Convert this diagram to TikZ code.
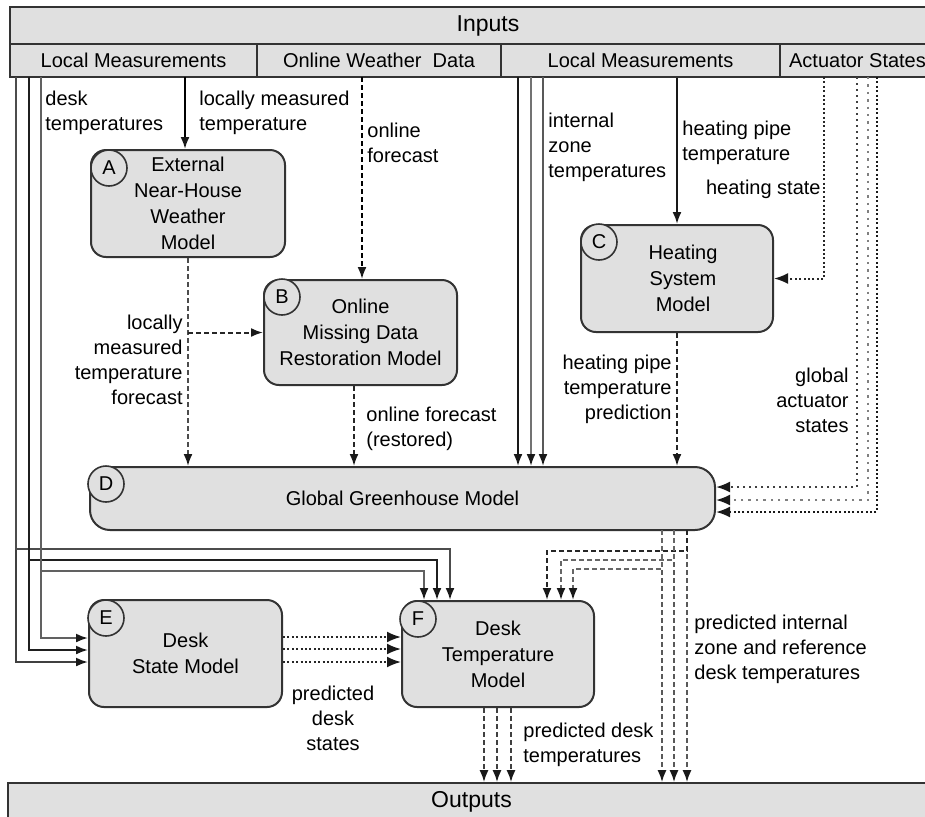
\documentclass[tikz,border=0pt]{standalone}
\usepackage{fontspec}
\setmainfont{Liberation Sans}
\usetikzlibrary{arrows.meta,calc}
\definecolor{boxgray}{HTML}{E0E0E0}
\begin{document}
\begin{tikzpicture}[x=0.5pt,y=-0.5pt,
  font=\fontsize{10}{12.5}\selectfont,
  cell/.style={draw=black!80, line width=0.8pt, fill=boxgray, inner sep=0pt},
  bigcell/.style={cell, font=\fontsize{11.5}{13}\selectfont},
  model/.style={draw=black!80, line width=1pt, fill=boxgray, rounded corners=7.5pt, align=center, inner sep=0pt, font=\fontsize{10}{13}\selectfont},
  tag/.style={draw=black!80, line width=0.8pt, fill=boxgray, circle, minimum size=18pt, inner sep=0pt},
  lbl/.style={inner sep=0pt, align=left},
  sarr/.style={line width=1pt, -{Latex[length=6pt,width=4.5pt,color=black!90]}},
  darr/.style={sarr, dash pattern=on 2.5pt off 1.5pt},
  oarr/.style={sarr, dash pattern=on 1pt off 1.2pt},
  oarrbig/.style={oarr, -{Latex[length=7pt,width=5.5pt,color=black!90]}}
]
\useasboundingbox (0,0) rectangle (925,816);
\clip (0,0) rectangle (925,816);

% header and footer
\node[bigcell, minimum width=478pt, minimum height=18.5pt] (inputs) at (488,25.5) {Inputs};
\node[cell, minimum width=123.5pt, minimum height=16.5pt] (lm1) at (133.5,60.5) {Local Measurements};
\node[cell, minimum width=122pt, minimum height=16.5pt] (owd) at (379,60.5) {Online Weather~ Data};
\node[cell, minimum width=139.5pt, minimum height=16.5pt] (lm2) at (640.5,60.5) {Local Measurements};
\node[cell, minimum width=77.5pt, minimum height=16.5pt] (act) at (857.5,60.5) {Actuator States};
\node[bigcell, minimum width=463.5pt, minimum height=18.5pt] (outputs) at (471.5,801.5) {Outputs};

% models
\node[model, minimum width=97pt, minimum height=53.5pt] (A) at (188,203.5) {External\\Near-House\\Weather\\Model};
\node[model, minimum width=96.5pt, minimum height=52.5pt] (B) at (360.5,332.5) {Online\\Missing Data\\Restoration Model};
\node[model, minimum width=96pt, minimum height=53.5pt] (C) at (677,278.5) {\hspace*{6pt}Heating\\\hspace*{6pt}System\\\hspace*{6pt}Model};
\node[model, minimum width=312.5pt, minimum height=31.5pt, rounded corners=10pt] (D) at (402.5,498.5) {Global Greenhouse Model};
\node[model, minimum width=96.5pt, minimum height=53.5pt] (E) at (185.5,653.5) {Desk\\State Model};
\node[model, minimum width=96pt, minimum height=53pt] (F) at (498,654) {Desk\\Temperature\\Model};

\node[tag] (tA) at ($(A.north west)+(19,19)$) {A};
\node[tag] (tB) at ($(B.north west)+(19,18)$) {B};
\node[tag] (tC) at ($(C.north west)+(19,18)$) {C};
\node[tag] (tD) at ($(D.north west)+(17,18)$) {D};
\node[tag] (tE) at ($(E.north west)+(18,19)$) {E};
\node[tag] (tF) at ($(F.north west)+(17,19)$) {F};

% left bundle: desk temperatures
\coordinate (l1) at (16,77);
\coordinate (l2) at (29,77);
\coordinate (l3) at (41,77);
\coordinate (k1) at (450,549);
\coordinate (k2) at (437,560);
\coordinate (k3) at (424,571);
\draw[sarr, draw=black!75] (l1) |- ($(E.west)+(0,8.5)$);
\draw[sarr, draw=black!88] (l2) |- ($(E.west)+(0,-3.5)$);
\draw[sarr, draw=black!62] (l3) |- ($(E.west)+(0,-15.5)$);
\draw[sarr, draw=black!70] (l1) |- (k1) -- (k1 |- F.north);
\draw[sarr, draw=black!88] (l2) |- (k2) -- (k2 |- F.north);
\draw[sarr, draw=black!62] (l3) |- (k3) -- (k3 |- F.north);

% locally measured temperature -> A
\coordinate (ta) at (185,77);
\draw[sarr, draw=black] (ta) -- (ta |- A.north);
% online forecast -> B
\coordinate (tb) at (362,77);
\draw[darr, draw=black] (tb) -- (tb |- B.north);
% A -> D, A -> B
\draw[darr, draw=black!70] (A.south) -- (A.south |- D.north);
\draw[darr, draw=black!85] (A.south |- B.west) -- (B.west);
% B -> D
\coordinate (bo) at ($(B.south)+(-6.5,0)$);
\draw[darr, draw=black!85] (bo) -- (bo |- D.north);

% internal zone temperatures
\coordinate (z1) at (518,77);
\coordinate (z2) at (531,77);
\coordinate (z3) at (543,77);
\draw[sarr, draw=black!90] (z1) -- (z1 |- D.north);
\draw[sarr, draw=black!55] (z2) -- (z2 |- D.north);
\draw[sarr, draw=black!65] (z3) -- (z3 |- D.north);

% heating pipe temperature -> C
\draw[sarr, draw=black!90] (lm2.south -| C.north) -- (C.north);
% heating state -> C
\coordinate (hs) at (824,77);
\draw[oarrbig, draw=black!85] (hs) |- (C.east);
% C -> D
\draw[darr, draw=black!85] (C.south) -- (C.south |- D.north);

% global actuator states -> D
\coordinate (g1) at (857,77);
\coordinate (g2) at (868,77);
\coordinate (g3) at (877,77);
\draw[oarrbig, draw=black!75, dash pattern=on 1pt off 2pt] (g1) |- ($(D.east)+(0,-11.5)$);
\draw[oarrbig, draw=black!50, dash pattern=on 1.2pt off 2.5pt] (g2) |- ($(D.east)+(0,1.5)$);
\draw[oarrbig, draw=black!90] (g3) |- ($(D.east)+(0,13.5)$);

% D outputs
\coordinate (d1) at (662,530);
\coordinate (d2) at (674,530);
\coordinate (d3) at (687,530);
\coordinate (m1) at (547,551);
\coordinate (m2) at (561,560);
\coordinate (m3) at (573,569);
\draw[darr, draw=black!65] (d1) -- (d1 |- outputs.north);
\draw[darr, draw=black!65] (d2) -- (d2 |- outputs.north);
\draw[darr, draw=black!65] (d3) -- (d3 |- outputs.north);
\draw[darr, draw=black!85] (d3) |- (m1) -- (m1 |- F.north);
\draw[darr, draw=black!60] (d2) |- (m2) -- (m2 |- F.north);
\draw[darr, draw=black!60] (d1) |- (m3) -- (m3 |- F.north);

% F outputs
\coordinate (fo1) at ($(F.south)+(-14,0)$);
\coordinate (fo2) at ($(F.south)+(-1,0)$);
\coordinate (fo3) at ($(F.south)+(13,0)$);
\draw[darr, draw=black!75] (fo1) -- (fo1 |- outputs.north);
\draw[darr, draw=black!75] (fo2) -- (fo2 |- outputs.north);
\draw[darr, draw=black!75] (fo3) -- (fo3 |- outputs.north);

% E -> F
\coordinate (s1) at ($(E.east)+(0,-16.5)$);
\coordinate (s2) at ($(E.east)+(0,-4.5)$);
\coordinate (s3) at ($(E.east)+(0,8.5)$);
\draw[oarrbig, draw=black!85] (s1) -- (s1 -| F.west);
\draw[oarrbig, draw=black!85] (s2) -- (s2 -| F.west);
\draw[oarrbig, draw=black!85] (s3) -- (s3 -| F.west);

% labels
\node[lbl, anchor=west] (Ldesk) at (45,112.5) {desk\\temperatures};
\node[lbl, anchor=west] (Llmt) at (199,112.5) {locally measured\\temperature};
\node[lbl, anchor=west] (Lof) at (367,142.5) {online\\forecast};
\node[lbl, anchor=east, align=right] (Llmtf) at (183,360) {locally\\measured\\temperature\\forecast};
\node[lbl, anchor=west] (Lofr) at (366,428.5) {online forecast\\(restored)};
\node[lbl, anchor=west] (Lizt) at (548,147) {internal\\zone\\temperatures};
\node[lbl, anchor=west] (Lhpt) at (682,143) {heating pipe\\temperature};
\node[lbl, anchor=east] (Lhs) at (821,189) {heating state};
\node[lbl, anchor=east, align=right] (Lhptp) at (672,389) {heating pipe\\temperature\\prediction};
\node[lbl, anchor=east, align=right] (Lgas) at (849,400) {global\\actuator\\states};
\node[lbl, anchor=west] (Lpiz) at (694,649) {predicted internal\\zone and reference\\desk temperatures};
\node[lbl, anchor=west] (Lpdt) at (523,745) {predicted desk\\temperatures};
\node[lbl, align=center] (Lpds) at (333,718) {predicted\\desk\\states};
\end{tikzpicture}
\end{document}
